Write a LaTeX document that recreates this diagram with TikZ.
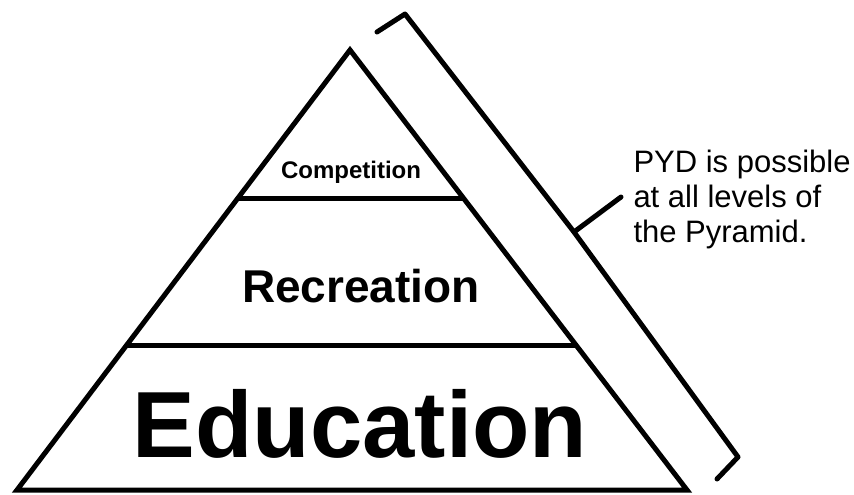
\documentclass[tikz,border=0pt]{standalone}
\usepackage{fontspec}
\setmainfont{Liberation Sans}
\usetikzlibrary{calc}

\begin{document}
\begin{tikzpicture}[x=1pt, y=-1pt, line width=5pt]
	\tikzstyle{every node} = [inner sep=0pt]
	\tikzstyle{level} = [anchor=base]
	\useasboundingbox (0,0) rectangle (854,495);
	% pyramid
	\coordinate (top) at (350,50);
	\coordinate (bl) at (17,490);
	\coordinate (br) at (687,490);
	\coordinate (u1) at ($(top)!0.3364!(bl)$);
	\coordinate (u2) at ($(top)!0.3364!(br)$);
	\coordinate (m1) at ($(top)!0.6705!(bl)$);
	\coordinate (m2) at ($(top)!0.6705!(br)$);
	\draw (top) -- (bl) -- (br) -- cycle;
	\draw (u1) -- (u2);
	\draw (m1) -- (m2);
	\node[level, font=\bfseries\fontsize{24}{24}\selectfont] (comp) at (351,178) {Competition};
	\node[level, font=\bfseries\fontsize{46}{46}\selectfont] (rec) at (361,302) {Recreation};
	\node[level, font=\bfseries\fontsize{94}{94}\selectfont] (edu) at (360,457) {Education};
	% brace
	\coordinate (b1) at (377,32);
	\coordinate (b2) at (405,14);
	\coordinate (bm) at (574,232);
	\coordinate (b3) at (738,457);
	\coordinate (b4) at (717,479);
	\coordinate (tick) at (621,197);
	\draw[line join=round, line cap=round] (b1) -- (b2) -- (bm) -- (b3) -- (b4);
	\draw[line cap=round] (bm) -- (tick);
	\node[align=left, anchor=base west, font=\fontsize{31}{35}\selectfont] (note) at (631,242) {PYD is possible\\at all levels of\\the Pyramid.};
\end{tikzpicture}
\end{document}
